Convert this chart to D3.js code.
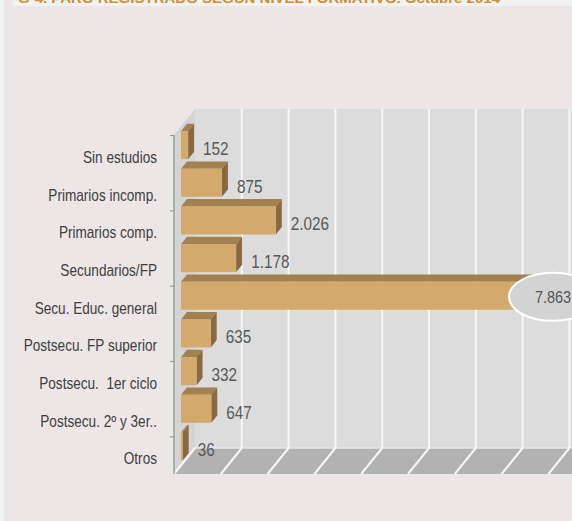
<!DOCTYPE html>
<html><head><meta charset="utf-8">
<script src="https://cdn.jsdelivr.net/npm/d3@7"></script>
<style>
html,body{margin:0;padding:0;background:#f4f4f4;}
svg{display:block;}
text{font-family:"Liberation Sans Narrow","Arial Narrow","Liberation Sans",sans-serif;}
</style></head>
<body>
<svg id="chart" width="572" height="521"></svg>
<script>
const title = "G-4. PARO REGISTRADO SEGÚN NIVEL FORMATIVO. Octubre 2014";
const categories = ["Sin estudios","Primarios incomp.","Primarios comp.","Secundarios/FP","Secu. Educ. general","Postsecu. FP superior","Postsecu.  1er ciclo","Postsecu. 2º y 3er..","Otros"];
const values = [152, 875, 2026, 1178, 7863, 635, 332, 647, 36];
const valueLabels = ["152","875","2.026","1.178","7.863","635","332","647","36"];
const gridTicks = [1000,2000,3000,4000,5000,6000,7000,8000,9000];

(function(){
const W = 572, H = 521;
const svg = d3.select("#chart");
const SX = 0.85; // horizontal condensing of text (narrow face)

// background
svg.append("rect").attr("x",4).attr("y",0).attr("width",W-4).attr("height",H).attr("fill","#ece7e6");
svg.append("rect").attr("x",13).attr("y",0).attr("width",W-13).attr("height",6).attr("fill","#f2f2f2");
svg.append("text").attr("x",18).attr("y",2.5).attr("font-size",13).attr("font-weight","bold")
  .attr("fill","#d38b2f").attr("textLength",482).attr("lengthAdjust","spacingAndGlyphs").text(title);

// geometry
const pLeft = 174, pBottom = 474, pTop = 135;
const DX = 21, DY = -26; // depth of the plot box
const x = d3.scaleLinear().domain([0, 9000]).range([pLeft, pLeft + 9*46.8]);
const y = d3.scaleBand().domain(categories).range([pTop, pBottom]).paddingInner(0.257).paddingOuter(0.1285);

const g = svg.append("g");

// back wall
g.append("rect").attr("x",x(0)+DX).attr("y",pTop+DY).attr("width",x(9000)-x(0)).attr("height",pBottom-pTop)
  .attr("fill","#dcdcdc");
// side wall
g.append("polygon").attr("points",[[pLeft,pTop],[pLeft+DX,pTop+DY],[pLeft+DX,pBottom+DY],[pLeft,pBottom]].join(" "))
  .attr("fill","#d4d4d4");
// floor
g.append("polygon").attr("points",[[pLeft,pBottom],[pLeft+DX,pBottom+DY],[x(9000)+DX,pBottom+DY],[x(9000),pBottom]].join(" "))
  .attr("fill","#b2b2b2");
g.append("line").attr("x1",pLeft+DX).attr("x2",x(9000)+DX).attr("y1",pBottom+DY).attr("y2",pBottom+DY)
  .attr("stroke","#e6e6e6").attr("stroke-width",1.5);

// gridlines on wall and floor
g.selectAll("line.gv").data(gridTicks).join("line").attr("class","gv")
  .attr("x1",d=>x(d)+DX).attr("x2",d=>x(d)+DX).attr("y1",pTop+DY).attr("y2",pBottom+DY)
  .attr("stroke","#f7f7f7").attr("stroke-width",2);
g.selectAll("line.gf").data([0].concat(gridTicks)).join("line").attr("class","gf")
  .attr("x1",d=>x(d)).attr("x2",d=>x(d)+DX).attr("y1",pBottom).attr("y2",pBottom+DY)
  .attr("stroke","#f7f7f7").attr("stroke-width",2);

// category axis line
const axis = d3.axisLeft(d3.scaleLinear().domain([0,9]).range([pTop,pBottom]))
  .tickValues([0,2,4,6,8]).tickSize(4).tickFormat("");
const ag = g.append("g").attr("transform",`translate(${pLeft},0)`).call(axis);
ag.select(".domain").attr("stroke","#9c9c9c").attr("stroke-width",1.5).attr("d",`M0,${pTop}V${pBottom}`);
ag.selectAll(".tick line").attr("stroke","#9c9c9c").attr("stroke-width",1.2);

// bars
const fx = 7, fy = -8.7;   // bar front plane offset
const bx = 6, by = -7.4;   // bar depth
const bars = g.append("g");
categories.forEach((c,i)=>{
  const x0 = x(0)+fx, x1 = x(values[i])+fx;
  const y0 = y(c)+fy, y1 = y0 + y.bandwidth();
  bars.append("polygon").attr("points",[[x0,y0],[x0+bx,y0+by],[x1+bx,y0+by],[x1,y0]].join(" ")).attr("fill","#a2804f");
  bars.append("polygon").attr("points",[[x1,y0],[x1+bx,y0+by],[x1+bx,y1+by],[x1,y1]].join(" ")).attr("fill","#8a6941");
  bars.append("rect").attr("x",x0).attr("y",y0).attr("width",x1-x0).attr("height",y1-y0).attr("fill","#d3a96c");
});

// category labels
g.selectAll("text.cat").data(categories).join("text").attr("class","cat")
  .attr("transform",d=>`translate(157,${y(d)+y.bandwidth()/2+9}) scale(${SX},1)`)
  .attr("text-anchor","end").attr("font-size",16).attr("fill","#404040")
  .style("white-space","pre").text(d=>d);

// value labels
const maxI = values.indexOf(d3.max(values));
categories.forEach((c,i)=>{
  const cy = y(c)+fy+y.bandwidth()/2;
  if (i === maxI) {
    const cx = x(values[i])+fx+4;
    g.append("ellipse").attr("cx",cx).attr("cy",cy+1).attr("rx",44).attr("ry",24)
      .attr("fill","#d3d3d3").attr("stroke","#ffffff").attr("stroke-width",2);
    g.append("text").attr("transform",`translate(${cx},${cy+7}) scale(${SX},1)`).attr("text-anchor","middle")
      .attr("font-size",17).attr("fill","#555555").text(valueLabels[i]);
  } else {
    g.append("text").attr("transform",`translate(${x(values[i])+fx+15},${cy+10}) scale(${SX},1)`)
      .attr("font-size",18).attr("fill","#595959").text(valueLabels[i]);
  }
});
})();
</script>
</body></html>
